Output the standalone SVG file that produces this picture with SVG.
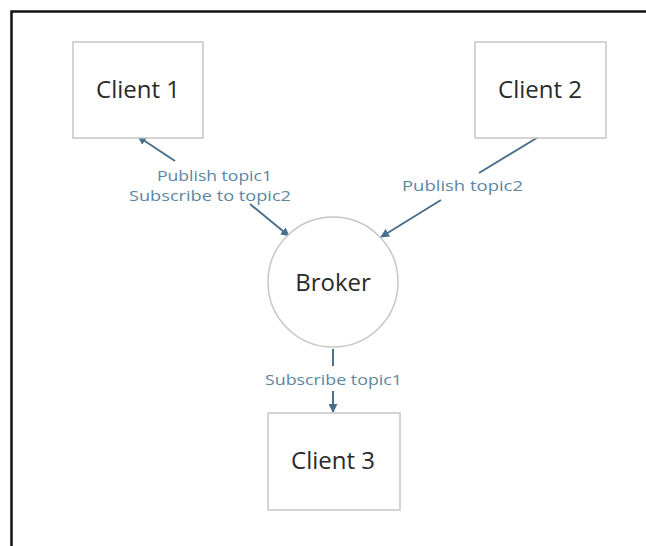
<svg xmlns="http://www.w3.org/2000/svg" width="646" height="546" viewBox="0 0 646 546">
  <style>
    .box { fill: #ffffff; stroke: #c6c6c6; stroke-width: 1.5; }
    .node-text { font-family: "Open Sans", "Liberation Sans", sans-serif; font-size: 24px; fill: #2a2a2a; text-anchor: middle; }
    .lbl { font-family: "Open Sans", "Liberation Sans", sans-serif; font-size: 15px; fill: #5b86a3; }
    .conn { stroke: #4a6f8a; stroke-width: 2; fill: none; }
    .frame { stroke: #111111; stroke-width: 2.5; fill: none; }
  </style>
  <defs>
    <marker id="ah" viewBox="0 0 10 10" refX="9" refY="5" markerWidth="4.5" markerHeight="4.5" orient="auto-start-reverse" markerUnits="strokeWidth">
      <path d="M0,0 L10,5 L0,10 z" fill="#4a6f8a"/>
    </marker>
  </defs>
  <rect x="0" y="0" width="646" height="546" fill="#ffffff"/>
  <path class="frame" d="M11.5,546 L11.5,11.5 L646,11.5"/>

  <g id="connectors">
    <line class="conn" x1="175" y1="161" x2="138" y2="136.5" marker-end="url(#ah)"/>
    <line class="conn" x1="250" y1="204" x2="289" y2="236" marker-end="url(#ah)"/>
    <line class="conn" x1="540" y1="136" x2="479" y2="173"/>
    <line class="conn" x1="441" y1="200" x2="381" y2="237" marker-end="url(#ah)"/>
    <line class="conn" x1="333" y1="349" x2="333" y2="366"/>
    <line class="conn" x1="333" y1="391" x2="333" y2="412" marker-end="url(#ah)"/>
    <text class="lbl" x="157" y="181" textLength="115" lengthAdjust="spacingAndGlyphs">Publish topic1</text>
    <text class="lbl" x="129" y="201" textLength="162" lengthAdjust="spacingAndGlyphs">Subscribe to topic2</text>
    <text class="lbl" x="402" y="191" textLength="121" lengthAdjust="spacingAndGlyphs">Publish topic2</text>
    <text class="lbl" x="265" y="385" textLength="137" lengthAdjust="spacingAndGlyphs">Subscribe topic1</text>
  </g>

  <g id="client1">
    <rect class="box" x="73" y="42" width="130" height="96"/>
    <text class="node-text" x="138" y="98">Client 1</text>
  </g>
  <g id="client2">
    <rect class="box" x="475" y="42" width="131" height="96"/>
    <text class="node-text" x="540" y="98">Client 2</text>
  </g>
  <g id="broker">
    <circle class="box" cx="333" cy="282" r="65"/>
    <text class="node-text" x="333" y="291">Broker</text>
  </g>
  <g id="client3">
    <rect class="box" x="268" y="413" width="132" height="97"/>
    <text class="node-text" x="333" y="469">Client 3</text>
  </g>
</svg>
